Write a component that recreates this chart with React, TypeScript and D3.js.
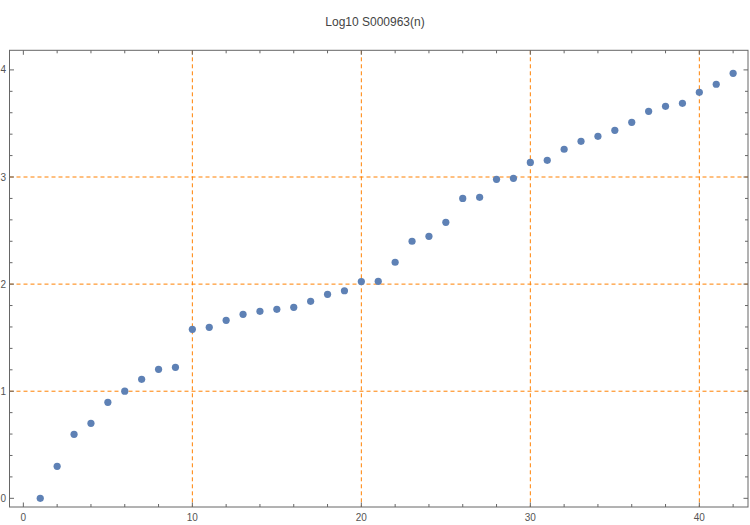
import { useRef, useEffect } from "react";
import * as d3 from "d3";

// n = 1..42
const values: number[] = [
  0.0, 0.299, 0.598, 0.7, 0.896, 1.0, 1.111, 1.204, 1.223, 1.578,
  1.597, 1.662, 1.718, 1.746, 1.765, 1.783, 1.839, 1.905, 1.938, 2.024,
  2.026, 2.204, 2.4, 2.446, 2.577, 2.8, 2.81, 2.978, 2.988, 3.136,
  3.156, 3.259, 3.333, 3.38, 3.436, 3.511, 3.613, 3.66, 3.688, 3.791,
  3.866, 3.968,
];
const xMajor = [0, 10, 20, 30, 40];
const yMajor = [0, 1, 2, 3, 4];
const xGrid = [10, 20, 30, 40];
const yGrid = [1, 2, 3];
const title = "Log10 S000963(n)";

const App = () => {
  const svgRef = useRef<SVGSVGElement | null>(null);

  useEffect(() => {
    if (!svgRef.current) return;
    const width = 750;
    const height = 525;
    const left = 9.5;
    const right = 748;
    const top = 50.3;
    const bottom = 507;

    const svg = d3.select(svgRef.current).attr("width", width).attr("height", height);
    svg.selectAll("*").remove();

    const x = d3.scaleLinear().domain([-0.82, 42.88]).range([left, right]);
    const y = d3.scaleLinear().domain([-0.081, 4.183]).range([bottom, top]);

    const font = "'Liberation Sans', Arial, sans-serif";
    const axisColor = "#666666";

    // title
    svg
      .append("text")
      .attr("x", 375)
      .attr("y", 26)
      .attr("text-anchor", "middle")
      .style("font-family", font)
      .style("font-size", "12px")
      .style("fill", "#444")
      .text(title);

    // grid lines
    const grid = svg.append("g").attr("stroke", "#FF8000").attr("stroke-width", 1).attr("stroke-dasharray", "4,3");
    grid
      .selectAll("line.gx")
      .data(xGrid)
      .enter()
      .append("line")
      .attr("x1", (d) => x(d))
      .attr("x2", (d) => x(d))
      .attr("y1", top)
      .attr("y2", bottom);
    grid
      .selectAll("line.gy")
      .data(yGrid)
      .enter()
      .append("line")
      .attr("x1", left)
      .attr("x2", right)
      .attr("y1", (d) => y(d))
      .attr("y2", (d) => y(d));

    // frame
    svg
      .append("rect")
      .attr("x", left)
      .attr("y", top)
      .attr("width", right - left)
      .attr("height", bottom - top)
      .attr("fill", "none")
      .attr("stroke", axisColor)
      .attr("stroke-width", 1);

    // ticks (inward, all four sides)
    const xMinor = d3.range(0, 43, 2).filter((d) => !xMajor.includes(d));
    const yMinor = d3.range(0, 4.2, 0.2).filter((d) => !yMajor.some((m) => Math.abs(m - d) < 1e-6));
    const ticks = svg.append("g").attr("stroke", axisColor).attr("stroke-width", 1);
    const addX = (vals: number[], len: number) => {
      vals.forEach((v) => {
        ticks.append("line").attr("x1", x(v)).attr("x2", x(v)).attr("y1", bottom).attr("y2", bottom - len);
        ticks.append("line").attr("x1", x(v)).attr("x2", x(v)).attr("y1", top).attr("y2", top + len);
      });
    };
    const addY = (vals: number[], len: number) => {
      vals.forEach((v) => {
        ticks.append("line").attr("x1", left).attr("x2", left + len).attr("y1", y(v)).attr("y2", y(v));
        ticks.append("line").attr("x1", right).attr("x2", right - len).attr("y1", y(v)).attr("y2", y(v));
      });
    };
    addX(xMajor, 4.5);
    addX(xMinor, 3);
    addY(yMajor, 4.5);
    addY(yMinor, 3);

    // tick labels
    svg
      .selectAll("text.xl")
      .data(xMajor)
      .enter()
      .append("text")
      .attr("class", "xl")
      .attr("x", (d) => x(d))
      .attr("y", 521)
      .attr("text-anchor", "middle")
      .style("font-family", font)
      .style("font-size", "10px")
      .style("fill", "#555")
      .text((d) => d);
    svg
      .selectAll("text.yl")
      .data(yMajor)
      .enter()
      .append("text")
      .attr("class", "yl")
      .attr("x", 6)
      .attr("y", (d) => y(d) + 3.5)
      .attr("text-anchor", "end")
      .style("font-family", font)
      .style("font-size", "10px")
      .style("fill", "#555")
      .text((d) => d);

    // points
    svg
      .selectAll("circle")
      .data(values)
      .enter()
      .append("circle")
      .attr("cx", (_, i) => x(i + 1))
      .attr("cy", (d) => y(d))
      .attr("r", 3.6)
      .style("fill", "#5E81B5");
  }, []);

  return <svg ref={svgRef} style={{ position: "absolute", left: 0, top: 0 }}></svg>;
};

export default App;
